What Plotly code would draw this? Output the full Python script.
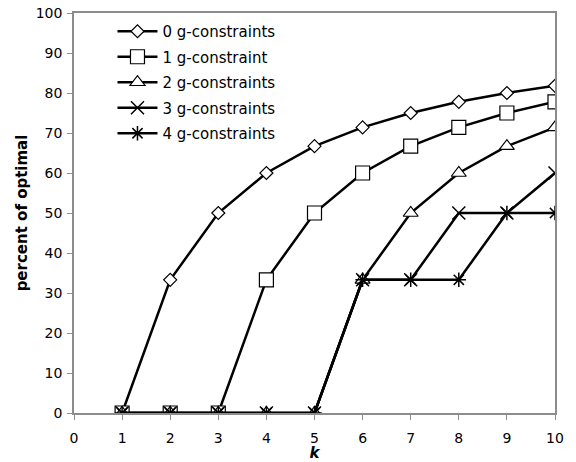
import plotly.graph_objects as go

k = [1, 2, 3, 4, 5, 6, 7, 8, 9, 10]
names = ["0 g-constraints", "1 g-constraint", "2 g-constraints", "3 g-constraints", "4 g-constraints"]
g0 = [0, 33.3, 50, 60, 66.7, 71.4, 75, 77.8, 80, 81.8]
g1 = [0, 0, 0, 33.3, 50, 60, 66.7, 71.4, 75, 77.8]
g2 = [0, 0, 0, 0, 0, 33.3, 50, 60, 66.7, 71.4]
g3 = [0, 0, 0, 0, 0, 33.3, 33.3, 50, 50, 60]
g4 = [0, 0, 0, 0, 0, 33.3, 33.3, 33.3, 50, 50]
x_ticks = list(range(0, 11))
y_ticks = list(range(0, 101, 10))

series = [g0, g1, g2, g3, g4]
symbols = ["diamond", "square", "triangle-up", "x-thin-open", "asterisk-open"]
sizes = [10, 14, 13, 13, 12]

fig = go.Figure()
for i, (nm, ys) in enumerate(zip(names, series)):
    sym = symbols[i]
    filled = i < 3
    fig.add_trace(go.Scatter(
        x=k, y=ys, name=nm, mode="lines+markers", legendgroup=str(i),
        line=dict(color="black", width=2.5),
        marker=dict(symbol=sym, size=sizes[i],
                    color="white" if filled else "black",
                    line=dict(color="black", width=1.2 if filled else 1.5)),
    ))

axis_common = dict(showline=True, linecolor="#8c8c8c", linewidth=1.5, mirror=True,
                   showgrid=False, zeroline=False, ticks="outside", ticklen=5,
                   tickcolor="#8c8c8c", tickfont=dict(size=14, color="black"),
                   automargin=False, ticklabeloverflow="allow")

fig.update_layout(
    width=576, height=462,
    margin=dict(l=74, r=21, t=13, b=49),
    paper_bgcolor="white", plot_bgcolor="white",
    font=dict(family="DejaVu Sans", size=14, color="black"),
    xaxis=dict(range=[0, 10], tickvals=x_ticks, ticklabelstandoff=6,
               title=dict(text="<b><i>k</i></b>", standoff=6, font=dict(size=15)),
               **axis_common),
    yaxis=dict(range=[0, 100], tickvals=y_ticks, ticklabelstandoff=2,
               title=dict(text="<b>percent of optimal</b>", standoff=4, font=dict(size=15)),
               **axis_common),
    legend=dict(x=0.08, y=0.995, xanchor="left", yanchor="top",
                bgcolor="rgba(0,0,0,0)", font=dict(size=15),
                itemwidth=40, traceorder="grouped", tracegroupgap=3),
    showlegend=True,
)

fig.write_html("out.html", config={"displayModeBar": False},
               post_script="document.body.style.margin='0';")
